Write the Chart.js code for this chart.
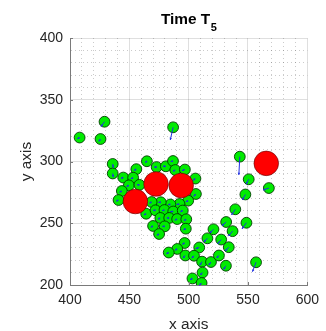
<!DOCTYPE html>
<html>
<head>
<meta charset="utf-8">
<script src="https://cdn.jsdelivr.net/npm/chart.js@4.4.0/dist/chart.umd.min.js"></script>
<style>
  html, body { margin: 0; padding: 0; background: #fff; }
  #wrap { width: 326px; height: 331px; }
</style>
</head>
<body>
<div id="wrap"><canvas id="chart" width="326" height="331"></canvas></div>
<script>
// agent positions at time T5
const greenX = [408.1, 429.1, 425.7, 486.9, 436.0, 436.0, 543.1, 550.6, 567.6, 547.8,
  539.3, 531.6, 548.7, 537.0, 520.9, 515.8, 527.4, 533.8, 508.9, 496.6,
  490.4, 483.2, 497.2, 504.5, 511.3, 518.8, 525.5, 531.4, 556.8, 511.7,
  503.2, 510.9, 444.9, 455.9, 464.8, 473.0, 480.8, 486.8, 488.7, 496.8,
  505.7, 506.1, 453.2, 449.6, 458.5, 443.7, 440.9, 499.6, 492.3, 484.6,
  476.5, 468.8, 464.2, 472.1, 479.6, 487.0, 495.0, 476.1, 483.6, 490.3,
  498.0, 470.0, 479.8, 497.6, 475.1];
const greenY = [319.4, 332.2, 318.2, 327.7, 298.0, 290.3, 303.9, 285.6, 278.5, 273.3,
  261.3, 251.0, 250.4, 243.6, 245.1, 237.8, 236.8, 230.6, 230.4, 234.0,
  229.2, 226.3, 223.9, 223.7, 218.9, 218.6, 223.9, 215.6, 218.4, 210.1,
  205.3, 201.6, 287.0, 293.8, 300.2, 295.5, 296.1, 300.4, 293.1, 293.5,
  286.2, 273.7, 286.9, 280.7, 281.1, 276.1, 268.8, 268.3, 265.6, 265.2,
  267.0, 267.2, 257.7, 260.5, 260.7, 259.5, 260.3, 254.3, 254.3, 253.4,
  253.2, 247.8, 247.5, 245.6, 241.3];
// velocity arrows (data units)
const arrowU = [-2.0, -3.0, -1.5, -2.4, 0.5, 0.5, -0.8, -2.2, -4.9, -2.6,
  -3.2, -3.5, -3.8, -3.5, -3.0, -3.0, -3.0, -3.0, -3.0, -2.0,
  -2.0, -2.0, -2.0, -2.0, -2.0, -2.0, -2.0, -2.0, -3.0, -2.0,
  -2.0, -2.0, -2.0, -2.0, -1.5, -2.0, -2.5, -2.0, -2.0, -2.5,
  -2.0, -2.0, -2.0, -2.0, -2.0, -2.0, -2.0, -2.0, -2.5, -2.0,
  -2.0, -2.0, -2.0, -2.0, -2.0, -2.5, -2.0, -2.0, -2.0, -2.0,
  -2.0, -2.0, -2.0, -2.0, -2.0];
const arrowV = [-1.0, -4.0, -2.0, -10.3, -3.0, -3.0, -14.8, -4.0, -1.6, -4.5,
  -4.6, -3.0, -5.0, -4.0, -3.0, -3.0, -3.5, -3.0, -1.0, -1.0,
  -1.0, -1.0, -2.0, -2.0, -3.0, -2.5, -2.0, -3.0, -7.6, -2.0,
  -1.0, -2.0, -0.5, -1.0, -1.0, 0.0, 0.0, -0.5, -1.0, -1.0,
  -1.5, -2.0, -1.0, -1.0, 0.0, -1.0, -1.0, -1.0, -0.5, 0.0,
  0.0, -1.0, -1.0, 0.0, -0.5, 0.0, -1.0, -1.0, 0.0, -1.0,
  -1.0, -1.0, 0.0, -1.0, -1.0];
const redX = [455.1, 472.5, 493.7, 565.4];
const redY = [267.6, 281.8, 280.6, 298.5];

const xTicks = [400, 450, 500, 550, 600];
const yTicks = [200, 250, 300, 350, 400];

const FONT = '"Liberation Sans", Arial, Helvetica, sans-serif';
const TEXT = '#262626';
const MAJOR = 'rgba(38,38,38,0.15)';
const MINOR = 'rgba(38,38,38,0.24)';

const toPoints = (xs, ys) => xs.map((x, i) => ({ x: x, y: ys[i] }));
const isMajor = v => Math.round(v) % 50 === 0;

function axis(min, max, labels, title, size) {
  return {
    type: 'linear',
    min: min,
    max: max,
    ticks: {
      stepSize: 10,
      autoSkip: false,
      maxRotation: 0,
      padding: 7,
      color: TEXT,
      font: { family: FONT, size: 14 },
      callback: v => labels.includes(Math.round(v)) ? String(Math.round(v)) : ''
    },
    grid: {
      drawTicks: false,
      lineWidth: 1,
      color: ctx => (ctx.tick && !isMajor(ctx.tick.value)) ? MINOR : MAJOR
    },
    border: {
      color: '#7a7a7a',
      width: 1,
      dash: ctx => (ctx.tick && !isMajor(ctx.tick.value)) ? [1, 3] : []
    },
    title: {
      display: true,
      text: title,
      color: TEXT,
      font: { family: FONT, size: 15.4 },
      padding: { top: 18, bottom: -3 }
    },
    afterFit: size
  };
}

const arrowPlugin = {
  id: 'arrows',
  afterDatasetDraw(chart, args) {
    if (args.index !== 1) return;
    const { ctx } = chart;
    const sx = chart.scales.x, sy = chart.scales.y;
    ctx.save();
    ctx.strokeStyle = '#1f2fe0';
    ctx.fillStyle = '#1f2fe0';
    ctx.lineWidth = 1;
    greenX.forEach((gx, i) => {
      const x0 = sx.getPixelForValue(gx);
      const y0 = sy.getPixelForValue(greenY[i]);
      const x1 = sx.getPixelForValue(gx + arrowU[i]);
      const y1 = sy.getPixelForValue(greenY[i] + arrowV[i]);
      const ang = Math.atan2(y1 - y0, x1 - x0);
      ctx.beginPath();
      ctx.moveTo(x0, y0);
      ctx.lineTo(x1, y1);
      ctx.stroke();
      const h = 2.5;
      ctx.beginPath();
      ctx.moveTo(x1, y1);
      ctx.lineTo(x1 - h * Math.cos(ang - 0.5), y1 - h * Math.sin(ang - 0.5));
      ctx.lineTo(x1 - h * Math.cos(ang + 0.5), y1 - h * Math.sin(ang + 0.5));
      ctx.closePath();
      ctx.fill();
    });
    ctx.restore();
  }
};

const framePlugin = {
  id: 'frame',
  afterDraw(chart) {
    const { ctx, chartArea } = chart;
    const sx = chart.scales.x, sy = chart.scales.y;
    ctx.save();
    // inward tick marks
    ctx.strokeStyle = '#7a7a7a';
    ctx.lineWidth = 1;
    xTicks.forEach(v => {
      const px = Math.round(sx.getPixelForValue(v)) + 0.5;
      ctx.beginPath();
      ctx.moveTo(px, chartArea.bottom);
      ctx.lineTo(px, chartArea.bottom - 3);
      ctx.stroke();
    });
    yTicks.forEach(v => {
      const py = Math.round(sy.getPixelForValue(v)) + 0.5;
      ctx.beginPath();
      ctx.moveTo(chartArea.left, py);
      ctx.lineTo(chartArea.left + 3, py);
      ctx.stroke();
    });
    // title with subscript
    const main = 'Time T', sub = '5';
    ctx.fillStyle = '#000';
    ctx.textBaseline = 'alphabetic';
    ctx.font = 'bold 15.4px ' + FONT;
    const w1 = ctx.measureText(main).width;
    ctx.font = 'bold 11px ' + FONT;
    const w2 = ctx.measureText(sub).width;
    const x0 = (chartArea.left + chartArea.right) / 2 - (w1 + w2) / 2;
    ctx.font = 'bold 15.4px ' + FONT;
    ctx.fillText(main, x0, 24);
    ctx.font = 'bold 11px ' + FONT;
    ctx.fillText(sub, x0 + w1 + 0.5, 31);
    ctx.restore();
  }
};

const chart = new Chart(document.getElementById('chart'), {
  type: 'scatter',
  data: {
    datasets: [
      {
        label: 'leaders',
        data: toPoints(redX, redY),
        order: 0,
        pointRadius: 12.3,
        pointHoverRadius: 12.3,
        backgroundColor: 'rgb(255,0,0)',
        borderColor: 'rgb(90,0,0)',
        borderWidth: 0.6
      },
      {
        label: 'agents',
        data: toPoints(greenX, greenY),
        order: 1,
        pointRadius: 5.4,
        pointHoverRadius: 5.4,
        backgroundColor: 'rgb(0,235,0)',
        borderColor: 'rgb(0,60,0)',
        borderWidth: 0.9
      }
    ]
  },
  options: {
    responsive: false,
    animation: false,
    events: [],
    layout: { padding: { top: 38, right: 9, left: 0, bottom: 0 } },
    plugins: {
      legend: { display: false },
      tooltip: { enabled: false },
      title: { display: false }
    },
    scales: {
      x: axis(400, 600, xTicks, 'x axis', s => { s.height = 46; }),
      y: axis(200, 400, yTicks, 'y axis', s => { s.width = 70; })
    }
  },
  plugins: [arrowPlugin, framePlugin]
});
</script>
</body>
</html>
